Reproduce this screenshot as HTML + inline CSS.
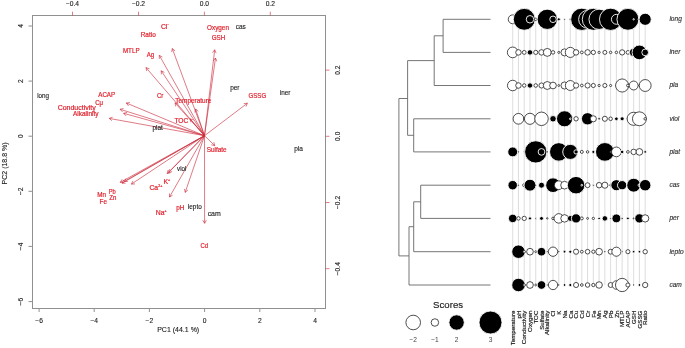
<!DOCTYPE html>
<html><head><meta charset="utf-8"><style>
html,body{margin:0;padding:0;background:#fff;width:685px;height:348px;overflow:hidden}
svg{display:block;will-change:transform}
text{font-family:"Liberation Sans",sans-serif}
.ax{font-size:6.7px;fill:#222;stroke:#222;stroke-width:0.12px}
.vl{font-size:6.85px;fill:#e0222e;stroke:#e0222e;stroke-width:0.2px}
.sl{font-size:6.6px;fill:#222;stroke:#222;stroke-width:0.12px}
.rl{font-size:6.6px;fill:#333;font-style:italic;stroke:#333;stroke-width:0.15px}
.cl{font-size:6.2px;fill:#222;stroke:#222;stroke-width:0.2px}
.lt{font-size:8.9px;fill:#222;stroke:#222;stroke-width:0.15px}
.lg{font-size:6.6px;fill:#444}
</style></head><body>
<svg width="685" height="348" viewBox="0 0 685 348">
<rect width="685" height="348" fill="#fff"/>
<rect x="32.5" y="15.5" width="293.0" height="293.0" fill="none" stroke="#909090" stroke-width="1"/>
<line x1="39.1" y1="308.5" x2="39.1" y2="312.0" stroke="#909090" stroke-width="1"/>
<text x="39.1" y="322.6" text-anchor="middle" class="ax">−6</text>
<line x1="94.2" y1="308.5" x2="94.2" y2="312.0" stroke="#909090" stroke-width="1"/>
<text x="94.2" y="322.6" text-anchor="middle" class="ax">−4</text>
<line x1="149.4" y1="308.5" x2="149.4" y2="312.0" stroke="#909090" stroke-width="1"/>
<text x="149.4" y="322.6" text-anchor="middle" class="ax">−2</text>
<line x1="204.6" y1="308.5" x2="204.6" y2="312.0" stroke="#909090" stroke-width="1"/>
<text x="204.6" y="322.6" text-anchor="middle" class="ax">0</text>
<line x1="259.8" y1="308.5" x2="259.8" y2="312.0" stroke="#909090" stroke-width="1"/>
<text x="259.8" y="322.6" text-anchor="middle" class="ax">2</text>
<line x1="315.0" y1="308.5" x2="315.0" y2="312.0" stroke="#909090" stroke-width="1"/>
<text x="315.0" y="322.6" text-anchor="middle" class="ax">4</text>
<line x1="28.5" y1="301.6" x2="32.5" y2="301.6" stroke="#909090" stroke-width="1"/>
<text transform="translate(23.1,301.6) rotate(-90)" text-anchor="middle" class="ax">−6</text>
<line x1="28.5" y1="246.4" x2="32.5" y2="246.4" stroke="#909090" stroke-width="1"/>
<text transform="translate(23.1,246.4) rotate(-90)" text-anchor="middle" class="ax">−4</text>
<line x1="28.5" y1="191.3" x2="32.5" y2="191.3" stroke="#909090" stroke-width="1"/>
<text transform="translate(23.1,191.3) rotate(-90)" text-anchor="middle" class="ax">−2</text>
<line x1="28.5" y1="136.2" x2="32.5" y2="136.2" stroke="#909090" stroke-width="1"/>
<text transform="translate(23.1,136.2) rotate(-90)" text-anchor="middle" class="ax">0</text>
<line x1="28.5" y1="81.1" x2="32.5" y2="81.1" stroke="#909090" stroke-width="1"/>
<text transform="translate(23.1,81.1) rotate(-90)" text-anchor="middle" class="ax">2</text>
<line x1="28.5" y1="26.0" x2="32.5" y2="26.0" stroke="#909090" stroke-width="1"/>
<text transform="translate(23.1,26.0) rotate(-90)" text-anchor="middle" class="ax">4</text>
<line x1="72.5" y1="15.5" x2="72.5" y2="11.7" stroke="#cc2a3a" stroke-opacity="0.6" stroke-width="1"/>
<text x="72.5" y="6.4" text-anchor="middle" class="ax">−0.4</text>
<line x1="138.5" y1="15.5" x2="138.5" y2="11.7" stroke="#cc2a3a" stroke-opacity="0.6" stroke-width="1"/>
<text x="138.5" y="6.4" text-anchor="middle" class="ax">−0.2</text>
<line x1="204.4" y1="15.5" x2="204.4" y2="11.7" stroke="#cc2a3a" stroke-opacity="0.6" stroke-width="1"/>
<text x="204.4" y="6.4" text-anchor="middle" class="ax">0.0</text>
<line x1="270.3" y1="15.5" x2="270.3" y2="11.7" stroke="#cc2a3a" stroke-opacity="0.6" stroke-width="1"/>
<text x="270.3" y="6.4" text-anchor="middle" class="ax">0.2</text>
<line x1="325.5" y1="268.7" x2="329.5" y2="268.7" stroke="#cc2a3a" stroke-opacity="0.6" stroke-width="1"/>
<text transform="translate(340.2,268.7) rotate(-90)" text-anchor="middle" class="ax">−0.4</text>
<line x1="325.5" y1="202.5" x2="329.5" y2="202.5" stroke="#cc2a3a" stroke-opacity="0.6" stroke-width="1"/>
<text transform="translate(340.2,202.5) rotate(-90)" text-anchor="middle" class="ax">−0.2</text>
<line x1="325.5" y1="136.3" x2="329.5" y2="136.3" stroke="#cc2a3a" stroke-opacity="0.6" stroke-width="1"/>
<text transform="translate(340.2,136.3) rotate(-90)" text-anchor="middle" class="ax">0.0</text>
<line x1="325.5" y1="70.1" x2="329.5" y2="70.1" stroke="#cc2a3a" stroke-opacity="0.6" stroke-width="1"/>
<text transform="translate(340.2,70.1) rotate(-90)" text-anchor="middle" class="ax">0.2</text>
<text x="178.2" y="332.4" text-anchor="middle" class="ax" style="font-size:7px">PC1 (44.1 %)</text>
<text transform="translate(7.3,163.4) rotate(-90)" text-anchor="middle" class="ax" style="font-size:7px">PC2 (18.8 %)</text>
<path d="M204.5,135.7 L172.3,48.6 M172.3,48.6 L175.1,50.9 M172.3,48.6 L171.7,52.1" fill="none" stroke="#cc2a3a" stroke-opacity="0.62" stroke-width="1"/>
<path d="M204.5,135.7 L159.3,55.3 M159.3,55.3 L162.4,57.1 M159.3,55.3 L159.3,58.9" fill="none" stroke="#cc2a3a" stroke-opacity="0.62" stroke-width="1"/>
<path d="M204.5,135.7 L146.0,67.6 M146.0,67.6 L149.4,68.8 M146.0,67.6 L146.7,71.1" fill="none" stroke="#cc2a3a" stroke-opacity="0.62" stroke-width="1"/>
<path d="M204.5,135.7 L161.2,70.8 M161.2,70.8 L164.4,72.4 M161.2,70.8 L161.4,74.4" fill="none" stroke="#cc2a3a" stroke-opacity="0.62" stroke-width="1"/>
<path d="M204.5,135.7 L214.7,49.8 M214.7,49.8 L216.1,53.1 M214.7,49.8 L212.5,52.7" fill="none" stroke="#cc2a3a" stroke-opacity="0.62" stroke-width="1"/>
<path d="M204.5,135.7 L215.5,58.0 M215.5,58.0 L216.8,61.3 M215.5,58.0 L213.3,60.8" fill="none" stroke="#cc2a3a" stroke-opacity="0.62" stroke-width="1"/>
<path d="M204.5,135.7 L175.0,102.9 M175.0,102.9 L178.4,104.0 M175.0,102.9 L175.7,106.4" fill="none" stroke="#cc2a3a" stroke-opacity="0.62" stroke-width="1"/>
<path d="M204.5,135.7 L195.6,109.0 M195.6,109.0 L198.3,111.4 M195.6,109.0 L194.9,112.5" fill="none" stroke="#cc2a3a" stroke-opacity="0.62" stroke-width="1"/>
<path d="M204.5,135.7 L126.3,103.0 M126.3,103.0 L129.9,102.5 M126.3,103.0 L128.5,105.9" fill="none" stroke="#cc2a3a" stroke-opacity="0.62" stroke-width="1"/>
<path d="M204.5,135.7 L120.1,109.3 M120.1,109.3 L123.6,108.5 M120.1,109.3 L122.5,111.9" fill="none" stroke="#cc2a3a" stroke-opacity="0.62" stroke-width="1"/>
<path d="M204.5,135.7 L123.6,113.3 M123.6,113.3 L127.1,112.4 M123.6,113.3 L126.1,115.9" fill="none" stroke="#cc2a3a" stroke-opacity="0.62" stroke-width="1"/>
<path d="M204.5,135.7 L109.2,118.4 M109.2,118.4 L112.6,117.2 M109.2,118.4 L111.9,120.7" fill="none" stroke="#cc2a3a" stroke-opacity="0.62" stroke-width="1"/>
<path d="M204.5,135.7 L190.1,118.8 M190.1,118.8 L193.5,120.0 M190.1,118.8 L190.8,122.3" fill="none" stroke="#cc2a3a" stroke-opacity="0.62" stroke-width="1"/>
<path d="M204.5,135.7 L247.4,103.2 M247.4,103.2 L246.0,106.5 M247.4,103.2 L243.8,103.6" fill="none" stroke="#cc2a3a" stroke-opacity="0.62" stroke-width="1"/>
<path d="M204.5,135.7 L214.8,145.7 M214.8,145.7 L211.3,144.8 M214.8,145.7 L213.8,142.2" fill="none" stroke="#cc2a3a" stroke-opacity="0.62" stroke-width="1"/>
<path d="M204.5,135.7 L120.2,182.4 M120.2,182.4 L122.1,179.3 M120.2,182.4 L123.8,182.5" fill="none" stroke="#cc2a3a" stroke-opacity="0.62" stroke-width="1"/>
<path d="M204.5,135.7 L124.2,181.5 M124.2,181.5 L126.0,178.4 M124.2,181.5 L127.8,181.5" fill="none" stroke="#cc2a3a" stroke-opacity="0.62" stroke-width="1"/>
<path d="M204.5,135.7 L122.0,183.2 M122.0,183.2 L123.8,180.1 M122.0,183.2 L125.6,183.2" fill="none" stroke="#cc2a3a" stroke-opacity="0.62" stroke-width="1"/>
<path d="M204.5,135.7 L131.4,184.1 M131.4,184.1 L133.0,180.9 M131.4,184.1 L135.0,183.9" fill="none" stroke="#cc2a3a" stroke-opacity="0.62" stroke-width="1"/>
<path d="M204.5,135.7 L167.2,173.6 M167.2,173.6 L168.1,170.1 M167.2,173.6 L170.7,172.6" fill="none" stroke="#cc2a3a" stroke-opacity="0.62" stroke-width="1"/>
<path d="M204.5,135.7 L168.6,172.6 M168.6,172.6 L169.5,169.1 M168.6,172.6 L172.1,171.6" fill="none" stroke="#cc2a3a" stroke-opacity="0.62" stroke-width="1"/>
<path d="M204.5,135.7 L169.5,197.0 M169.5,197.0 L169.5,193.4 M169.5,197.0 L172.6,195.2" fill="none" stroke="#cc2a3a" stroke-opacity="0.62" stroke-width="1"/>
<path d="M204.5,135.7 L185.2,192.4 M185.2,192.4 L184.5,188.9 M185.2,192.4 L187.9,190.0" fill="none" stroke="#cc2a3a" stroke-opacity="0.62" stroke-width="1"/>
<path d="M204.5,135.7 L204.6,223.3 M204.6,223.3 L202.8,220.2 M204.6,223.3 L206.4,220.2" fill="none" stroke="#cc2a3a" stroke-opacity="0.62" stroke-width="1"/>
<text x="160.9" y="29.4" class="vl">Cl<tspan font-size="3" dy="-3.6">−</tspan></text>
<text x="148.20" y="37.1" text-anchor="middle" textLength="15.1" lengthAdjust="spacingAndGlyphs" class="vl">Ratio</text>
<text x="131.25" y="53.4" text-anchor="middle" textLength="16.6" lengthAdjust="spacingAndGlyphs" class="vl">MTLP</text>
<text x="150.45" y="56.5" text-anchor="middle" textLength="7.4" lengthAdjust="spacingAndGlyphs" class="vl">Ag</text>
<text x="218.00" y="30.0" text-anchor="middle" textLength="21.9" lengthAdjust="spacingAndGlyphs" class="vl">Oxygen</text>
<text x="218.45" y="40.2" text-anchor="middle" textLength="13.6" lengthAdjust="spacingAndGlyphs" class="vl">GSH</text>
<text x="160.15" y="97.6" text-anchor="middle" textLength="6.4" lengthAdjust="spacingAndGlyphs" class="vl">Cr</text>
<text x="193.35" y="102.8" text-anchor="middle" textLength="36.0" lengthAdjust="spacingAndGlyphs" class="vl">Temperature</text>
<text x="106.70" y="97.3" text-anchor="middle" textLength="16.9" lengthAdjust="spacingAndGlyphs" class="vl">ACAP</text>
<text x="99.10" y="105.0" text-anchor="middle" textLength="7.9" lengthAdjust="spacingAndGlyphs" class="vl">Cμ</text>
<text x="76.70" y="109.6" text-anchor="middle" textLength="38.1" lengthAdjust="spacingAndGlyphs" class="vl">Conductivity</text>
<text x="85.75" y="115.7" text-anchor="middle" textLength="25.6" lengthAdjust="spacingAndGlyphs" class="vl">Alkalinity</text>
<text x="181.40" y="123.4" text-anchor="middle" textLength="13.9" lengthAdjust="spacingAndGlyphs" class="vl">TOC</text>
<text x="257.35" y="97.5" text-anchor="middle" textLength="17.6" lengthAdjust="spacingAndGlyphs" class="vl">GSSG</text>
<text x="216.65" y="152.1" text-anchor="middle" textLength="20.0" lengthAdjust="spacingAndGlyphs" class="vl">Sulfate</text>
<text x="101.55" y="196.9" text-anchor="middle" textLength="8.8" lengthAdjust="spacingAndGlyphs" class="vl">Mn</text>
<text x="112.15" y="193.5" text-anchor="middle" textLength="7.0" lengthAdjust="spacingAndGlyphs" class="vl">Pb</text>
<text x="112.80" y="199.5" text-anchor="middle" textLength="7.1" lengthAdjust="spacingAndGlyphs" class="vl">Zn</text>
<text x="103.25" y="204.0" text-anchor="middle" textLength="7.4" lengthAdjust="spacingAndGlyphs" class="vl">Fe</text>
<text x="149.4" y="189.9" class="vl">Ca<tspan font-size="3.6" dy="-3.4">2+</tspan></text>
<text x="163.5" y="183.9" class="vl">K<tspan font-size="3.6" dy="-3.4">+</tspan></text>
<text x="155.7" y="214.9" class="vl">Na<tspan font-size="3.6" dy="-3.4">+</tspan></text>
<text x="180.20" y="209.5" text-anchor="middle" textLength="8.1" lengthAdjust="spacingAndGlyphs" class="vl">pH</text>
<text x="204.35" y="247.9" text-anchor="middle" textLength="7.6" lengthAdjust="spacingAndGlyphs" class="vl">Cd</text>
<text x="43.10" y="98.4" text-anchor="middle" textLength="11.9" lengthAdjust="spacingAndGlyphs" class="sl">long</text>
<text x="240.75" y="28.8" text-anchor="middle" textLength="10.0" lengthAdjust="spacingAndGlyphs" class="sl">cas</text>
<text x="234.85" y="90.0" text-anchor="middle" textLength="9.4" lengthAdjust="spacingAndGlyphs" class="sl">per</text>
<text x="285.05" y="95.1" text-anchor="middle" textLength="10.6" lengthAdjust="spacingAndGlyphs" class="sl">iner</text>
<text x="157.65" y="130.4" text-anchor="middle" textLength="10.4" lengthAdjust="spacingAndGlyphs" class="sl">plat</text>
<text x="298.60" y="151.0" text-anchor="middle" textLength="8.7" lengthAdjust="spacingAndGlyphs" class="sl">pla</text>
<text x="181.70" y="170.7" text-anchor="middle" textLength="9.3" lengthAdjust="spacingAndGlyphs" class="sl">viol</text>
<text x="194.80" y="209.3" text-anchor="middle" textLength="13.9" lengthAdjust="spacingAndGlyphs" class="sl">lepto</text>
<text x="214.20" y="215.6" text-anchor="middle" textLength="13.1" lengthAdjust="spacingAndGlyphs" class="sl">cam</text>
<line x1="443.1" y1="19.3" x2="490.5" y2="19.3" stroke="#666" stroke-width="0.9"/>
<line x1="443.1" y1="52.4" x2="490.5" y2="52.4" stroke="#666" stroke-width="0.9"/>
<line x1="443.1" y1="19.3" x2="443.1" y2="52.4" stroke="#666" stroke-width="0.9"/>
<line x1="434.2" y1="35.8" x2="443.1" y2="35.8" stroke="#666" stroke-width="0.9"/>
<line x1="434.2" y1="85.5" x2="490.5" y2="85.5" stroke="#666" stroke-width="0.9"/>
<line x1="434.2" y1="35.8" x2="434.2" y2="85.5" stroke="#666" stroke-width="0.9"/>
<line x1="407.6" y1="60.6" x2="434.2" y2="60.6" stroke="#666" stroke-width="0.9"/>
<line x1="413.7" y1="118.8" x2="490.5" y2="118.8" stroke="#666" stroke-width="0.9"/>
<line x1="413.7" y1="151.9" x2="490.5" y2="151.9" stroke="#666" stroke-width="0.9"/>
<line x1="413.7" y1="118.8" x2="413.7" y2="151.9" stroke="#666" stroke-width="0.9"/>
<line x1="407.6" y1="135.3" x2="413.7" y2="135.3" stroke="#666" stroke-width="0.9"/>
<line x1="407.6" y1="60.6" x2="407.6" y2="135.3" stroke="#666" stroke-width="0.9"/>
<line x1="398.9" y1="98.5" x2="407.6" y2="98.5" stroke="#666" stroke-width="0.9"/>
<line x1="420.7" y1="185.2" x2="490.5" y2="185.2" stroke="#666" stroke-width="0.9"/>
<line x1="420.7" y1="218.4" x2="490.5" y2="218.4" stroke="#666" stroke-width="0.9"/>
<line x1="420.7" y1="185.2" x2="420.7" y2="218.4" stroke="#666" stroke-width="0.9"/>
<line x1="413.7" y1="201.8" x2="420.7" y2="201.8" stroke="#666" stroke-width="0.9"/>
<line x1="413.7" y1="251.7" x2="490.5" y2="251.7" stroke="#666" stroke-width="0.9"/>
<line x1="413.7" y1="201.8" x2="413.7" y2="251.7" stroke="#666" stroke-width="0.9"/>
<line x1="409.0" y1="226.7" x2="413.7" y2="226.7" stroke="#666" stroke-width="0.9"/>
<line x1="409.0" y1="285.0" x2="490.5" y2="285.0" stroke="#666" stroke-width="0.9"/>
<line x1="409.0" y1="226.7" x2="409.0" y2="285.0" stroke="#666" stroke-width="0.9"/>
<line x1="398.9" y1="255.9" x2="409.0" y2="255.9" stroke="#666" stroke-width="0.9"/>
<line x1="398.9" y1="98.5" x2="398.9" y2="255.9" stroke="#666" stroke-width="0.9"/>
<line x1="512.70" y1="19.3" x2="512.70" y2="285.0" stroke="#d4d4d4" stroke-width="0.8"/>
<line x1="518.46" y1="19.3" x2="518.46" y2="285.0" stroke="#d4d4d4" stroke-width="0.8"/>
<line x1="524.22" y1="19.3" x2="524.22" y2="285.0" stroke="#d4d4d4" stroke-width="0.8"/>
<line x1="529.98" y1="19.3" x2="529.98" y2="285.0" stroke="#d4d4d4" stroke-width="0.8"/>
<line x1="535.74" y1="19.3" x2="535.74" y2="285.0" stroke="#d4d4d4" stroke-width="0.8"/>
<line x1="541.50" y1="19.3" x2="541.50" y2="285.0" stroke="#d4d4d4" stroke-width="0.8"/>
<line x1="547.26" y1="19.3" x2="547.26" y2="285.0" stroke="#d4d4d4" stroke-width="0.8"/>
<line x1="553.02" y1="19.3" x2="553.02" y2="285.0" stroke="#d4d4d4" stroke-width="0.8"/>
<line x1="558.78" y1="19.3" x2="558.78" y2="285.0" stroke="#d4d4d4" stroke-width="0.8"/>
<line x1="564.54" y1="19.3" x2="564.54" y2="285.0" stroke="#d4d4d4" stroke-width="0.8"/>
<line x1="570.30" y1="19.3" x2="570.30" y2="285.0" stroke="#d4d4d4" stroke-width="0.8"/>
<line x1="576.06" y1="19.3" x2="576.06" y2="285.0" stroke="#d4d4d4" stroke-width="0.8"/>
<line x1="581.82" y1="19.3" x2="581.82" y2="285.0" stroke="#d4d4d4" stroke-width="0.8"/>
<line x1="587.58" y1="19.3" x2="587.58" y2="285.0" stroke="#d4d4d4" stroke-width="0.8"/>
<line x1="593.34" y1="19.3" x2="593.34" y2="285.0" stroke="#d4d4d4" stroke-width="0.8"/>
<line x1="599.10" y1="19.3" x2="599.10" y2="285.0" stroke="#d4d4d4" stroke-width="0.8"/>
<line x1="604.86" y1="19.3" x2="604.86" y2="285.0" stroke="#d4d4d4" stroke-width="0.8"/>
<line x1="610.62" y1="19.3" x2="610.62" y2="285.0" stroke="#d4d4d4" stroke-width="0.8"/>
<line x1="616.38" y1="19.3" x2="616.38" y2="285.0" stroke="#d4d4d4" stroke-width="0.8"/>
<line x1="622.14" y1="19.3" x2="622.14" y2="285.0" stroke="#d4d4d4" stroke-width="0.8"/>
<line x1="627.90" y1="19.3" x2="627.90" y2="285.0" stroke="#d4d4d4" stroke-width="0.8"/>
<line x1="633.66" y1="19.3" x2="633.66" y2="285.0" stroke="#d4d4d4" stroke-width="0.8"/>
<line x1="639.42" y1="19.3" x2="639.42" y2="285.0" stroke="#d4d4d4" stroke-width="0.8"/>
<line x1="645.18" y1="19.3" x2="645.18" y2="285.0" stroke="#d4d4d4" stroke-width="0.8"/>
<circle cx="512.70" cy="19.3" r="4.45" fill="#fff" stroke="#222" stroke-width="0.8"/>
<circle cx="518.46" cy="19.3" r="0.75" fill="#fff" stroke="#222" stroke-width="0.8"/>
<circle cx="524.22" cy="19.3" r="10.95" fill="#000" stroke="#fff" stroke-width="0.9"/>
<circle cx="529.98" cy="19.3" r="3.75" fill="#000" stroke="#fff" stroke-width="0.9"/>
<circle cx="535.74" cy="19.3" r="1.25" fill="#fff" stroke="#222" stroke-width="0.8"/>
<circle cx="541.50" cy="19.3" r="1.35" fill="#000" stroke="#fff" stroke-width="0.9"/>
<circle cx="547.26" cy="19.3" r="10.15" fill="#000" stroke="#fff" stroke-width="0.9"/>
<circle cx="553.02" cy="19.3" r="3.25" fill="#000" stroke="#fff" stroke-width="0.9"/>
<circle cx="558.78" cy="19.3" r="1.55" fill="#000" stroke="#fff" stroke-width="0.9"/>
<circle cx="564.54" cy="19.3" r="0.85" fill="#000" stroke="#fff" stroke-width="0.9"/>
<circle cx="570.30" cy="19.3" r="1.15" fill="#000" stroke="#fff" stroke-width="0.9"/>
<circle cx="576.06" cy="19.3" r="1.35" fill="#000" stroke="#fff" stroke-width="0.9"/>
<circle cx="581.82" cy="19.3" r="11.15" fill="#000" stroke="#fff" stroke-width="0.9"/>
<circle cx="587.58" cy="19.3" r="8.95" fill="#000" stroke="#fff" stroke-width="0.9"/>
<circle cx="593.34" cy="19.3" r="11.05" fill="#000" stroke="#fff" stroke-width="0.9"/>
<circle cx="599.10" cy="19.3" r="10.15" fill="#000" stroke="#fff" stroke-width="0.9"/>
<circle cx="604.86" cy="19.3" r="1.35" fill="#000" stroke="#fff" stroke-width="0.9"/>
<circle cx="610.62" cy="19.3" r="11.15" fill="#000" stroke="#fff" stroke-width="0.9"/>
<circle cx="616.38" cy="19.3" r="4.95" fill="#000" stroke="#fff" stroke-width="0.9"/>
<circle cx="622.14" cy="19.3" r="1.35" fill="#000" stroke="#fff" stroke-width="0.9"/>
<circle cx="627.90" cy="19.3" r="10.95" fill="#000" stroke="#fff" stroke-width="0.9"/>
<circle cx="633.66" cy="19.3" r="0.70" fill="#000" stroke="#fff" stroke-width="0.9"/>
<circle cx="639.42" cy="19.3" r="1.35" fill="#000" stroke="#fff" stroke-width="0.9"/>
<circle cx="645.18" cy="19.3" r="6.05" fill="#000" stroke="#fff" stroke-width="0.9"/>
<circle cx="512.70" cy="52.4" r="5.35" fill="#fff" stroke="#222" stroke-width="0.8"/>
<circle cx="518.46" cy="52.4" r="2.75" fill="#fff" stroke="#222" stroke-width="0.8"/>
<circle cx="524.22" cy="52.4" r="1.95" fill="#fff" stroke="#222" stroke-width="0.8"/>
<circle cx="529.98" cy="52.4" r="2.75" fill="#000" stroke="#fff" stroke-width="0.9"/>
<circle cx="535.74" cy="52.4" r="2.10" fill="#fff" stroke="#222" stroke-width="0.8"/>
<circle cx="541.50" cy="52.4" r="2.75" fill="#fff" stroke="#222" stroke-width="0.8"/>
<circle cx="547.26" cy="52.4" r="3.95" fill="#fff" stroke="#222" stroke-width="0.8"/>
<circle cx="553.02" cy="52.4" r="1.75" fill="#fff" stroke="#222" stroke-width="0.8"/>
<circle cx="558.78" cy="52.4" r="1.05" fill="#fff" stroke="#222" stroke-width="0.8"/>
<circle cx="564.54" cy="52.4" r="3.55" fill="#fff" stroke="#222" stroke-width="0.8"/>
<circle cx="570.30" cy="52.4" r="5.05" fill="#fff" stroke="#222" stroke-width="0.8"/>
<circle cx="576.06" cy="52.4" r="2.75" fill="#fff" stroke="#222" stroke-width="0.8"/>
<circle cx="581.82" cy="52.4" r="1.40" fill="#fff" stroke="#222" stroke-width="0.8"/>
<circle cx="587.58" cy="52.4" r="2.75" fill="#fff" stroke="#222" stroke-width="0.8"/>
<circle cx="593.34" cy="52.4" r="2.15" fill="#fff" stroke="#222" stroke-width="0.8"/>
<circle cx="599.10" cy="52.4" r="1.15" fill="#fff" stroke="#222" stroke-width="0.8"/>
<circle cx="604.86" cy="52.4" r="2.00" fill="#fff" stroke="#222" stroke-width="0.8"/>
<circle cx="610.62" cy="52.4" r="1.25" fill="#fff" stroke="#222" stroke-width="0.8"/>
<circle cx="616.38" cy="52.4" r="1.25" fill="#fff" stroke="#222" stroke-width="0.8"/>
<circle cx="622.14" cy="52.4" r="2.65" fill="#fff" stroke="#222" stroke-width="0.8"/>
<circle cx="627.90" cy="52.4" r="1.85" fill="#fff" stroke="#222" stroke-width="0.8"/>
<circle cx="633.66" cy="52.4" r="4.25" fill="#000" stroke="#fff" stroke-width="0.9"/>
<circle cx="639.42" cy="52.4" r="7.35" fill="#000" stroke="#fff" stroke-width="0.9"/>
<circle cx="645.18" cy="52.4" r="3.35" fill="#000" stroke="#fff" stroke-width="0.9"/>
<circle cx="512.70" cy="85.5" r="5.25" fill="#fff" stroke="#222" stroke-width="0.8"/>
<circle cx="518.46" cy="85.5" r="2.75" fill="#fff" stroke="#222" stroke-width="0.8"/>
<circle cx="524.22" cy="85.5" r="1.75" fill="#fff" stroke="#222" stroke-width="0.8"/>
<circle cx="529.98" cy="85.5" r="2.70" fill="#000" stroke="#fff" stroke-width="0.9"/>
<circle cx="535.74" cy="85.5" r="1.80" fill="#fff" stroke="#222" stroke-width="0.8"/>
<circle cx="541.50" cy="85.5" r="2.55" fill="#fff" stroke="#222" stroke-width="0.8"/>
<circle cx="547.26" cy="85.5" r="3.95" fill="#fff" stroke="#222" stroke-width="0.8"/>
<circle cx="553.02" cy="85.5" r="3.35" fill="#fff" stroke="#222" stroke-width="0.8"/>
<circle cx="558.78" cy="85.5" r="0.95" fill="#fff" stroke="#222" stroke-width="0.8"/>
<circle cx="564.54" cy="85.5" r="3.55" fill="#fff" stroke="#222" stroke-width="0.8"/>
<circle cx="570.30" cy="85.5" r="4.95" fill="#fff" stroke="#222" stroke-width="0.8"/>
<circle cx="576.06" cy="85.5" r="2.65" fill="#fff" stroke="#222" stroke-width="0.8"/>
<circle cx="581.82" cy="85.5" r="1.35" fill="#fff" stroke="#222" stroke-width="0.8"/>
<circle cx="587.58" cy="85.5" r="2.55" fill="#fff" stroke="#222" stroke-width="0.8"/>
<circle cx="593.34" cy="85.5" r="2.05" fill="#fff" stroke="#222" stroke-width="0.8"/>
<circle cx="599.10" cy="85.5" r="1.15" fill="#fff" stroke="#222" stroke-width="0.8"/>
<circle cx="604.86" cy="85.5" r="2.05" fill="#fff" stroke="#222" stroke-width="0.8"/>
<circle cx="610.62" cy="85.5" r="1.05" fill="#fff" stroke="#222" stroke-width="0.8"/>
<circle cx="616.38" cy="85.5" r="0.75" fill="#fff" stroke="#222" stroke-width="0.8"/>
<circle cx="622.14" cy="85.5" r="6.55" fill="#fff" stroke="#222" stroke-width="0.8"/>
<circle cx="627.90" cy="85.5" r="1.35" fill="#fff" stroke="#222" stroke-width="0.8"/>
<circle cx="633.66" cy="85.5" r="4.45" fill="#fff" stroke="#222" stroke-width="0.8"/>
<circle cx="639.42" cy="85.5" r="0.75" fill="#fff" stroke="#222" stroke-width="0.8"/>
<circle cx="645.18" cy="85.5" r="5.95" fill="#fff" stroke="#222" stroke-width="0.8"/>
<circle cx="518.46" cy="118.8" r="5.35" fill="#fff" stroke="#222" stroke-width="0.8"/>
<circle cx="524.22" cy="118.8" r="0.75" fill="#fff" stroke="#222" stroke-width="0.8"/>
<circle cx="529.98" cy="118.8" r="5.55" fill="#fff" stroke="#222" stroke-width="0.8"/>
<circle cx="535.74" cy="118.8" r="0.75" fill="#fff" stroke="#222" stroke-width="0.8"/>
<circle cx="541.50" cy="118.8" r="6.75" fill="#fff" stroke="#222" stroke-width="0.8"/>
<circle cx="553.02" cy="118.8" r="3.25" fill="#000" stroke="#fff" stroke-width="0.9"/>
<circle cx="558.78" cy="118.8" r="1.35" fill="#000" stroke="#fff" stroke-width="0.9"/>
<circle cx="564.54" cy="118.8" r="8.05" fill="#000" stroke="#fff" stroke-width="0.9"/>
<circle cx="570.30" cy="118.8" r="0.85" fill="#000" stroke="#fff" stroke-width="0.9"/>
<circle cx="576.06" cy="118.8" r="2.20" fill="#fff" stroke="#222" stroke-width="0.8"/>
<circle cx="581.82" cy="118.8" r="1.05" fill="#000" stroke="#fff" stroke-width="0.9"/>
<circle cx="587.58" cy="118.8" r="6.15" fill="#000" stroke="#fff" stroke-width="0.9"/>
<circle cx="593.34" cy="118.8" r="3.05" fill="#fff" stroke="#222" stroke-width="0.8"/>
<circle cx="599.10" cy="118.8" r="1.25" fill="#000" stroke="#fff" stroke-width="0.9"/>
<circle cx="604.86" cy="118.8" r="2.55" fill="#fff" stroke="#222" stroke-width="0.8"/>
<circle cx="610.62" cy="118.8" r="1.80" fill="#fff" stroke="#222" stroke-width="0.8"/>
<circle cx="616.38" cy="118.8" r="1.85" fill="#000" stroke="#fff" stroke-width="0.9"/>
<circle cx="622.14" cy="118.8" r="2.05" fill="#000" stroke="#fff" stroke-width="0.9"/>
<circle cx="627.90" cy="118.8" r="0.75" fill="#fff" stroke="#222" stroke-width="0.8"/>
<circle cx="633.66" cy="118.8" r="6.55" fill="#fff" stroke="#222" stroke-width="0.8"/>
<circle cx="639.42" cy="118.8" r="6.95" fill="#fff" stroke="#222" stroke-width="0.8"/>
<circle cx="645.18" cy="118.8" r="1.25" fill="#fff" stroke="#222" stroke-width="0.8"/>
<circle cx="512.70" cy="151.9" r="4.95" fill="#000" stroke="#fff" stroke-width="0.9"/>
<circle cx="518.46" cy="151.9" r="0.30" fill="#fff" stroke="#222" stroke-width="0.8"/>
<circle cx="524.22" cy="151.9" r="0.30" fill="#fff" stroke="#222" stroke-width="0.8"/>
<circle cx="529.98" cy="151.9" r="1.35" fill="#000" stroke="#fff" stroke-width="0.9"/>
<circle cx="535.74" cy="151.9" r="11.15" fill="#000" stroke="#fff" stroke-width="0.9"/>
<circle cx="541.50" cy="151.9" r="3.35" fill="#000" stroke="#fff" stroke-width="0.9"/>
<circle cx="547.26" cy="151.9" r="0.30" fill="#fff" stroke="#222" stroke-width="0.8"/>
<circle cx="553.02" cy="151.9" r="1.35" fill="#000" stroke="#fff" stroke-width="0.9"/>
<circle cx="558.78" cy="151.9" r="9.25" fill="#000" stroke="#fff" stroke-width="0.9"/>
<circle cx="564.54" cy="151.9" r="1.35" fill="#000" stroke="#fff" stroke-width="0.9"/>
<circle cx="570.30" cy="151.9" r="7.55" fill="#000" stroke="#fff" stroke-width="0.9"/>
<circle cx="576.06" cy="151.9" r="2.15" fill="#000" stroke="#fff" stroke-width="0.9"/>
<circle cx="581.82" cy="151.9" r="1.50" fill="#fff" stroke="#222" stroke-width="0.8"/>
<circle cx="587.58" cy="151.9" r="1.25" fill="#fff" stroke="#222" stroke-width="0.8"/>
<circle cx="593.34" cy="151.9" r="1.55" fill="#000" stroke="#fff" stroke-width="0.9"/>
<circle cx="599.10" cy="151.9" r="1.35" fill="#000" stroke="#fff" stroke-width="0.9"/>
<circle cx="604.86" cy="151.9" r="9.35" fill="#000" stroke="#fff" stroke-width="0.9"/>
<circle cx="610.62" cy="151.9" r="0.75" fill="#fff" stroke="#222" stroke-width="0.8"/>
<circle cx="616.38" cy="151.9" r="4.85" fill="#fff" stroke="#222" stroke-width="0.8"/>
<circle cx="622.14" cy="151.9" r="1.75" fill="#000" stroke="#fff" stroke-width="0.9"/>
<circle cx="627.90" cy="151.9" r="1.35" fill="#fff" stroke="#222" stroke-width="0.8"/>
<circle cx="633.66" cy="151.9" r="2.75" fill="#fff" stroke="#222" stroke-width="0.8"/>
<circle cx="639.42" cy="151.9" r="3.35" fill="#fff" stroke="#222" stroke-width="0.8"/>
<circle cx="645.18" cy="151.9" r="1.35" fill="#000" stroke="#fff" stroke-width="0.9"/>
<circle cx="512.70" cy="185.2" r="4.75" fill="#000" stroke="#fff" stroke-width="0.9"/>
<circle cx="518.46" cy="185.2" r="0.30" fill="#fff" stroke="#222" stroke-width="0.8"/>
<circle cx="524.22" cy="185.2" r="1.55" fill="#fff" stroke="#222" stroke-width="0.8"/>
<circle cx="529.98" cy="185.2" r="5.95" fill="#000" stroke="#fff" stroke-width="0.9"/>
<circle cx="535.74" cy="185.2" r="0.30" fill="#fff" stroke="#222" stroke-width="0.8"/>
<circle cx="541.50" cy="185.2" r="3.00" fill="#000" stroke="#fff" stroke-width="0.9"/>
<circle cx="547.26" cy="185.2" r="1.35" fill="#000" stroke="#fff" stroke-width="0.9"/>
<circle cx="553.02" cy="185.2" r="7.35" fill="#000" stroke="#fff" stroke-width="0.9"/>
<circle cx="558.78" cy="185.2" r="4.35" fill="#fff" stroke="#222" stroke-width="0.8"/>
<circle cx="564.54" cy="185.2" r="3.85" fill="#fff" stroke="#222" stroke-width="0.8"/>
<circle cx="570.30" cy="185.2" r="2.25" fill="#fff" stroke="#222" stroke-width="0.8"/>
<circle cx="576.06" cy="185.2" r="8.75" fill="#000" stroke="#fff" stroke-width="0.9"/>
<circle cx="581.82" cy="185.2" r="0.85" fill="#000" stroke="#fff" stroke-width="0.9"/>
<circle cx="587.58" cy="185.2" r="2.45" fill="#fff" stroke="#222" stroke-width="0.8"/>
<circle cx="593.34" cy="185.2" r="0.95" fill="#000" stroke="#fff" stroke-width="0.9"/>
<circle cx="599.10" cy="185.2" r="2.75" fill="#fff" stroke="#222" stroke-width="0.8"/>
<circle cx="604.86" cy="185.2" r="3.05" fill="#fff" stroke="#222" stroke-width="0.8"/>
<circle cx="610.62" cy="185.2" r="0.95" fill="#fff" stroke="#222" stroke-width="0.8"/>
<circle cx="616.38" cy="185.2" r="5.55" fill="#000" stroke="#fff" stroke-width="0.9"/>
<circle cx="622.14" cy="185.2" r="4.65" fill="#000" stroke="#fff" stroke-width="0.9"/>
<circle cx="627.90" cy="185.2" r="1.35" fill="#000" stroke="#fff" stroke-width="0.9"/>
<circle cx="633.66" cy="185.2" r="6.95" fill="#000" stroke="#fff" stroke-width="0.9"/>
<circle cx="639.42" cy="185.2" r="1.35" fill="#000" stroke="#fff" stroke-width="0.9"/>
<circle cx="645.18" cy="185.2" r="5.75" fill="#000" stroke="#fff" stroke-width="0.9"/>
<circle cx="512.70" cy="218.4" r="4.25" fill="#000" stroke="#fff" stroke-width="0.9"/>
<circle cx="518.46" cy="218.4" r="1.75" fill="#fff" stroke="#222" stroke-width="0.8"/>
<circle cx="524.22" cy="218.4" r="2.15" fill="#fff" stroke="#222" stroke-width="0.8"/>
<circle cx="529.98" cy="218.4" r="1.55" fill="#000" stroke="#fff" stroke-width="0.9"/>
<circle cx="535.74" cy="218.4" r="0.85" fill="#000" stroke="#fff" stroke-width="0.9"/>
<circle cx="541.50" cy="218.4" r="1.95" fill="#000" stroke="#fff" stroke-width="0.9"/>
<circle cx="547.26" cy="218.4" r="0.75" fill="#fff" stroke="#222" stroke-width="0.8"/>
<circle cx="553.02" cy="218.4" r="1.25" fill="#fff" stroke="#222" stroke-width="0.8"/>
<circle cx="558.78" cy="218.4" r="4.75" fill="#fff" stroke="#222" stroke-width="0.8"/>
<circle cx="564.54" cy="218.4" r="3.75" fill="#fff" stroke="#222" stroke-width="0.8"/>
<circle cx="570.30" cy="218.4" r="2.95" fill="#000" stroke="#fff" stroke-width="0.9"/>
<circle cx="576.06" cy="218.4" r="4.65" fill="#000" stroke="#fff" stroke-width="0.9"/>
<circle cx="581.82" cy="218.4" r="1.45" fill="#fff" stroke="#222" stroke-width="0.8"/>
<circle cx="587.58" cy="218.4" r="0.95" fill="#fff" stroke="#222" stroke-width="0.8"/>
<circle cx="593.34" cy="218.4" r="1.15" fill="#fff" stroke="#222" stroke-width="0.8"/>
<circle cx="599.10" cy="218.4" r="1.25" fill="#000" stroke="#fff" stroke-width="0.9"/>
<circle cx="604.86" cy="218.4" r="2.75" fill="#000" stroke="#fff" stroke-width="0.9"/>
<circle cx="610.62" cy="218.4" r="0.85" fill="#000" stroke="#fff" stroke-width="0.9"/>
<circle cx="616.38" cy="218.4" r="4.45" fill="#000" stroke="#fff" stroke-width="0.9"/>
<circle cx="622.14" cy="218.4" r="1.05" fill="#000" stroke="#fff" stroke-width="0.9"/>
<circle cx="627.90" cy="218.4" r="1.35" fill="#000" stroke="#fff" stroke-width="0.9"/>
<circle cx="633.66" cy="218.4" r="0.55" fill="#fff" stroke="#222" stroke-width="0.8"/>
<circle cx="639.42" cy="218.4" r="4.65" fill="#000" stroke="#fff" stroke-width="0.9"/>
<circle cx="645.18" cy="218.4" r="3.65" fill="#fff" stroke="#222" stroke-width="0.8"/>
<circle cx="518.46" cy="251.7" r="6.75" fill="#000" stroke="#fff" stroke-width="0.9"/>
<circle cx="524.22" cy="251.7" r="1.25" fill="#fff" stroke="#222" stroke-width="0.8"/>
<circle cx="529.98" cy="251.7" r="3.35" fill="#fff" stroke="#222" stroke-width="0.8"/>
<circle cx="535.74" cy="251.7" r="0.95" fill="#fff" stroke="#222" stroke-width="0.8"/>
<circle cx="541.50" cy="251.7" r="4.30" fill="#000" stroke="#fff" stroke-width="0.9"/>
<circle cx="547.26" cy="251.7" r="0.95" fill="#000" stroke="#fff" stroke-width="0.9"/>
<circle cx="553.02" cy="251.7" r="4.65" fill="#fff" stroke="#222" stroke-width="0.8"/>
<circle cx="558.78" cy="251.7" r="0.35" fill="#fff" stroke="#222" stroke-width="0.8"/>
<circle cx="564.54" cy="251.7" r="1.35" fill="#000" stroke="#fff" stroke-width="0.9"/>
<circle cx="570.30" cy="251.7" r="1.55" fill="#000" stroke="#fff" stroke-width="0.9"/>
<circle cx="576.06" cy="251.7" r="2.60" fill="#fff" stroke="#222" stroke-width="0.8"/>
<circle cx="581.82" cy="251.7" r="1.40" fill="#fff" stroke="#222" stroke-width="0.8"/>
<circle cx="587.58" cy="251.7" r="2.30" fill="#fff" stroke="#222" stroke-width="0.8"/>
<circle cx="593.34" cy="251.7" r="1.65" fill="#fff" stroke="#222" stroke-width="0.8"/>
<circle cx="599.10" cy="251.7" r="3.35" fill="#fff" stroke="#222" stroke-width="0.8"/>
<circle cx="604.86" cy="251.7" r="0.30" fill="#fff" stroke="#222" stroke-width="0.8"/>
<circle cx="610.62" cy="251.7" r="2.45" fill="#fff" stroke="#222" stroke-width="0.8"/>
<circle cx="616.38" cy="251.7" r="4.55" fill="#fff" stroke="#222" stroke-width="0.8"/>
<circle cx="622.14" cy="251.7" r="0.95" fill="#000" stroke="#fff" stroke-width="0.9"/>
<circle cx="627.90" cy="251.7" r="2.05" fill="#fff" stroke="#222" stroke-width="0.8"/>
<circle cx="633.66" cy="251.7" r="1.25" fill="#000" stroke="#fff" stroke-width="0.9"/>
<circle cx="639.42" cy="251.7" r="1.25" fill="#000" stroke="#fff" stroke-width="0.9"/>
<circle cx="645.18" cy="251.7" r="2.20" fill="#fff" stroke="#222" stroke-width="0.8"/>
<circle cx="518.46" cy="285.0" r="6.75" fill="#000" stroke="#fff" stroke-width="0.9"/>
<circle cx="524.22" cy="285.0" r="1.25" fill="#fff" stroke="#222" stroke-width="0.8"/>
<circle cx="529.98" cy="285.0" r="3.35" fill="#fff" stroke="#222" stroke-width="0.8"/>
<circle cx="535.74" cy="285.0" r="0.95" fill="#fff" stroke="#222" stroke-width="0.8"/>
<circle cx="541.50" cy="285.0" r="4.30" fill="#000" stroke="#fff" stroke-width="0.9"/>
<circle cx="547.26" cy="285.0" r="0.95" fill="#000" stroke="#fff" stroke-width="0.9"/>
<circle cx="553.02" cy="285.0" r="4.65" fill="#fff" stroke="#222" stroke-width="0.8"/>
<circle cx="558.78" cy="285.0" r="0.35" fill="#fff" stroke="#222" stroke-width="0.8"/>
<circle cx="564.54" cy="285.0" r="1.35" fill="#000" stroke="#fff" stroke-width="0.9"/>
<circle cx="570.30" cy="285.0" r="1.55" fill="#000" stroke="#fff" stroke-width="0.9"/>
<circle cx="576.06" cy="285.0" r="2.55" fill="#fff" stroke="#222" stroke-width="0.8"/>
<circle cx="581.82" cy="285.0" r="1.35" fill="#fff" stroke="#222" stroke-width="0.8"/>
<circle cx="587.58" cy="285.0" r="2.25" fill="#fff" stroke="#222" stroke-width="0.8"/>
<circle cx="593.34" cy="285.0" r="1.65" fill="#fff" stroke="#222" stroke-width="0.8"/>
<circle cx="599.10" cy="285.0" r="3.25" fill="#fff" stroke="#222" stroke-width="0.8"/>
<circle cx="610.62" cy="285.0" r="2.45" fill="#fff" stroke="#222" stroke-width="0.8"/>
<circle cx="616.38" cy="285.0" r="4.25" fill="#fff" stroke="#222" stroke-width="0.8"/>
<circle cx="622.14" cy="285.0" r="6.65" fill="#fff" stroke="#222" stroke-width="0.8"/>
<circle cx="627.90" cy="285.0" r="2.05" fill="#fff" stroke="#222" stroke-width="0.8"/>
<circle cx="633.66" cy="285.0" r="0.30" fill="#fff" stroke="#222" stroke-width="0.8"/>
<circle cx="639.42" cy="285.0" r="1.35" fill="#000" stroke="#fff" stroke-width="0.9"/>
<circle cx="645.18" cy="285.0" r="2.65" fill="#fff" stroke="#222" stroke-width="0.8"/>
<text x="669.4" y="21.2" class="rl">long</text>
<text x="669.4" y="54.3" class="rl">iner</text>
<text x="669.4" y="87.4" class="rl">pla</text>
<text x="669.4" y="120.7" class="rl">viol</text>
<text x="669.4" y="153.8" class="rl">plat</text>
<text x="669.4" y="187.1" class="rl">cas</text>
<text x="669.4" y="220.3" class="rl">per</text>
<text x="669.4" y="253.6" class="rl">lepto</text>
<text x="669.4" y="286.9" class="rl">cam</text>
<text transform="translate(514.90,310.6) rotate(-90)" text-anchor="end" class="cl">Temperature</text>
<text transform="translate(520.66,310.6) rotate(-90)" text-anchor="end" class="cl">pH</text>
<text transform="translate(526.42,310.6) rotate(-90)" text-anchor="end" class="cl">Conductivity</text>
<text transform="translate(532.18,310.6) rotate(-90)" text-anchor="end" class="cl">Oxygen</text>
<text transform="translate(537.94,310.6) rotate(-90)" text-anchor="end" class="cl">TOC</text>
<text transform="translate(543.70,310.6) rotate(-90)" text-anchor="end" class="cl">Sulfate</text>
<text transform="translate(549.46,310.6) rotate(-90)" text-anchor="end" class="cl">Alkalinity</text>
<text transform="translate(555.22,310.6) rotate(-90)" text-anchor="end" class="cl">Cl</text>
<text transform="translate(560.98,310.6) rotate(-90)" text-anchor="end" class="cl">K</text>
<text transform="translate(566.74,310.6) rotate(-90)" text-anchor="end" class="cl">Na</text>
<text transform="translate(572.50,310.6) rotate(-90)" text-anchor="end" class="cl">Ca</text>
<text transform="translate(578.26,310.6) rotate(-90)" text-anchor="end" class="cl">Cu</text>
<text transform="translate(584.02,310.6) rotate(-90)" text-anchor="end" class="cl">Cd</text>
<text transform="translate(589.78,310.6) rotate(-90)" text-anchor="end" class="cl">Cr</text>
<text transform="translate(595.54,310.6) rotate(-90)" text-anchor="end" class="cl">Fe</text>
<text transform="translate(601.30,310.6) rotate(-90)" text-anchor="end" class="cl">Mn</text>
<text transform="translate(607.06,310.6) rotate(-90)" text-anchor="end" class="cl">Ag</text>
<text transform="translate(612.82,310.6) rotate(-90)" text-anchor="end" class="cl">Pb</text>
<text transform="translate(618.58,310.6) rotate(-90)" text-anchor="end" class="cl">Zn</text>
<text transform="translate(624.34,310.6) rotate(-90)" text-anchor="end" class="cl">MTLP</text>
<text transform="translate(630.10,310.6) rotate(-90)" text-anchor="end" class="cl">ACAP</text>
<text transform="translate(635.86,310.6) rotate(-90)" text-anchor="end" class="cl">GSH</text>
<text transform="translate(641.62,310.6) rotate(-90)" text-anchor="end" class="cl">GSSG</text>
<text transform="translate(647.38,310.6) rotate(-90)" text-anchor="end" class="cl">Ratio</text>
<text x="448.1" y="307.9" text-anchor="middle" textLength="30" lengthAdjust="spacingAndGlyphs" class="lt">Scores</text>
<circle cx="413.2" cy="322.5" r="7.3" fill="#fff" stroke="#222" stroke-width="0.8"/>
<circle cx="434.9" cy="322.5" r="3.75" fill="#fff" stroke="#222" stroke-width="0.8"/>
<circle cx="456.6" cy="322.5" r="7.7" fill="#000" stroke="#fff" stroke-width="0.9"/>
<circle cx="490.5" cy="322.5" r="11.5" fill="#000" stroke="#fff" stroke-width="0.9"/>
<text x="413.2" y="341.5" text-anchor="middle" class="lg">−2</text>
<text x="434.9" y="341.5" text-anchor="middle" class="lg">−1</text>
<text x="456.6" y="341.5" text-anchor="middle" class="lg">2</text>
<text x="490.5" y="341.5" text-anchor="middle" class="lg">3</text>
</svg></body></html>
